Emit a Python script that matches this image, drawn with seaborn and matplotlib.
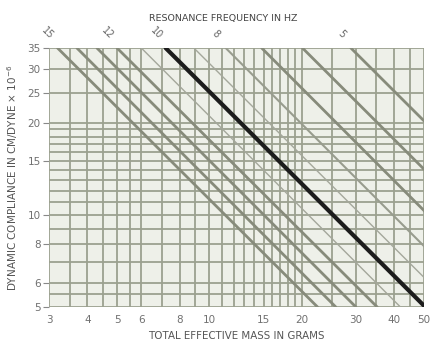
import matplotlib
matplotlib.use("Agg")
import matplotlib.pyplot as plt
import seaborn as sns
import pandas as pd

# ---- data ----
freq_labels = [15, 14, 13, 12, 11, 10, 9, 8, 7, 6, 5]
# mass (g) where each frequency line meets the top edge (compliance 35)
mass_at_top = [3.2, 3.7, 4.3, 5.0, 6.0, 7.2, 8.9, 11.3, 14.8, 20.1, 28.9]
# mass (g) where each line reaches compliance 5 (beyond 50 is clipped)
mass_at_bottom = [22.5, 25.8, 30.0, 35.2, 41.9, 50.5, 62.5, 79.0, 103.0, 141.0, 203.0]
shown_labels = [15, 12, 10, 8, 5]

x_grid = [3, 3.5, 4, 4.5, 5, 5.5, 6, 7, 8, 9, 10, 11, 12, 13, 14, 15, 16, 17, 18, 19, 20,
          25, 30, 35, 40, 45, 50]
y_grid = [5, 5.5, 6, 7, 8, 9, 10, 11, 12, 13, 14, 15, 16, 17, 18, 19, 20, 25, 30, 35]
x_ticks = [3, 4, 5, 6, 8, 10, 15, 20, 30, 40, 50]
y_ticks = [5, 6, 8, 10, 15, 20, 25, 30, 35]
c_top, c_bottom = 35, 5

sns.set_theme(style="white")
plt.rcParams['font.family'] = ['DejaVu Sans']

fig = plt.figure(figsize=(4.39, 3.56), dpi=100)
ax = fig.add_axes([0.1116, 0.1376, 0.8542, 0.7274])
ax.set_facecolor("#eef0e9")
ax.set_xscale("log")
ax.set_yscale("log")
ax.set_xlim(3, 50)
ax.set_ylim(5, 35)

grid_col = "#9ca190"
for gx in x_grid:
    ax.axvline(gx, color=grid_col, lw=1.3, zorder=1)
for gy in y_grid:
    ax.axhline(gy, color=grid_col, lw=1.3, zorder=1)

rows = []
for f, mt, mb in zip(freq_labels, mass_at_top, mass_at_bottom):
    rows.append({"f": f, "mass": mt, "comp": c_top})
    rows.append({"f": f, "mass": mb, "comp": c_bottom})
df = pd.DataFrame(rows)

for f in freq_labels:
    sub = df[df["f"] == f]
    if f == 10:
        col, lw = "#1c1c1c", 3.0
    elif f in (9, 11):
        col, lw = "#a4a79b", 1.0
    elif f == 8:
        col, lw = "#989c8e", 1.5
    else:
        col, lw = "#878b7b", 2.0
    sns.lineplot(data=sub, x="mass", y="comp", color=col, lw=lw, ax=ax,
                 sort=False, legend=False, zorder=3)

for f, mt in zip(freq_labels, mass_at_top):
    if f in shown_labels:
        ax.text(mt * 0.93, 39, str(f), rotation=-45, ha="center", va="center",
                fontsize=7, color="#666666", clip_on=False)

for s in ax.spines.values():
    s.set_visible(False)

ax.set_xticks(x_ticks)
ax.set_xticklabels([str(v) for v in x_ticks])
ax.set_yticks(y_ticks)
ax.set_yticklabels([str(v) for v in y_ticks])
ax.minorticks_off()
ax.tick_params(axis="x", length=0, pad=6, labelsize=7.5, labelcolor="#707070")
ax.tick_params(axis="y", left=True, length=4, width=0.8, color="#888888", pad=2,
               labelsize=7.5, labelcolor="#707070")

ax.set_xlabel("TOTAL EFFECTIVE MASS IN GRAMS", fontsize=7.4, color="#555555", labelpad=4)
ax.set_ylabel("DYNAMIC COMPLIANCE IN CM/DYNE \u00d7 10$^{-6}$", fontsize=7.5,
              color="#555555", labelpad=5)
fig.text(0.508, 0.948, "RESONANCE FREQUENCY IN HZ", ha="center", va="center",
         fontsize=6.8, color="#444444")

fig.savefig("out.png", dpi=100, facecolor="white")
